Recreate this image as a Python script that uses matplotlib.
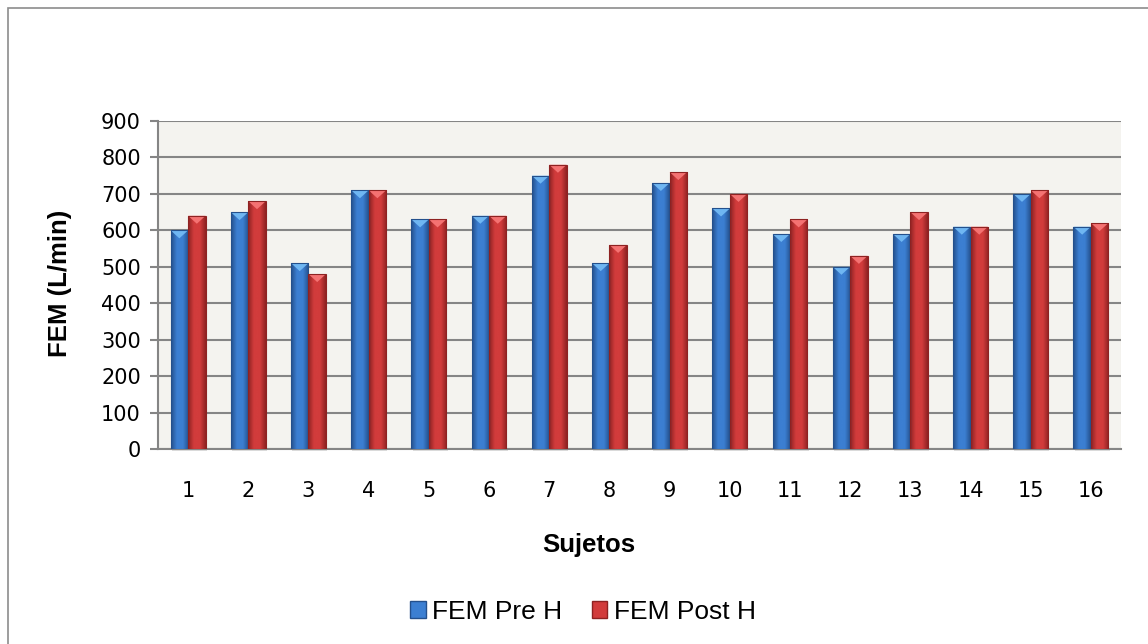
import matplotlib
matplotlib.use("Agg")
import matplotlib.pyplot as plt
import matplotlib.patches as mpatches
from matplotlib.colors import LinearSegmentedColormap
import numpy as np

# ── Data ────────────────────────────────────────────────────────────
sujetos = [str(i) for i in range(1, 17)]
fem_pre = [600, 650, 510, 710, 630, 640, 750, 510, 730, 660, 590, 500, 590, 610, 700, 610]
fem_post = [640, 680, 480, 710, 630, 640, 780, 560, 760, 700, 630, 530, 650, 610, 710, 620]
y_ticks = list(range(0, 1000, 100))

# ── Styles ──────────────────────────────────────────────────────────
_SERIES = {
    "FEM Pre H": dict(dark="#24508c", mid="#3c7fd2", light="#6fb6f2"),
    "FEM Post H": dict(dark="#8e2222", mid="#d23c3c", light="#f47272"),
}
GRID = "#858585"
PLOT_BG = "#f4f3ef"

W, H, DPI = 1148, 644, 100
fig = plt.figure(figsize=(W / DPI, H / DPI), dpi=DPI)
fig.patch.set_facecolor("white")

# outer chart frame (top and left edges visible)
fig.add_artist(mpatches.Rectangle((8 / W, -0.1), 1.2, 1 - 8 / H + 0.1,
                                  transform=fig.transFigure, fill=False,
                                  edgecolor="#8c8c8c", linewidth=1.2))

ax = fig.add_axes([158 / W, 1 - 449 / H, (1121 - 158) / W, (449 - 121) / H])
ax.set_facecolor(PLOT_BG)

x = np.arange(len(sujetos))
width = 0.29


def _bevel_bar(rects, style):
    """Shade each bar with a cylindrical gradient and a light top facet."""
    cmap = LinearSegmentedColormap.from_list(
        "bev", [style["dark"], style["mid"], style["mid"], style["dark"]])
    grad = np.linspace(0, 1, 64).reshape(1, -1)
    for r in rects:
        x0, w, h = r.get_x(), r.get_width(), r.get_height()
        im = ax.imshow(grad, extent=(x0, x0 + w, 0, h), aspect="auto",
                       cmap=cmap, zorder=3, interpolation="bicubic")
        im.set_clip_path(r)
        # top facet triangle, about 8 px deep
        depth = 22
        tri = mpatches.Polygon([(x0, h), (x0 + w, h), (x0 + w / 2, h - depth)],
                               closed=True, facecolor=style["light"],
                               edgecolor="none", zorder=4)
        ax.add_patch(tri)
        ax.add_patch(mpatches.Rectangle((x0, 0), w, h, fill=False,
                                        edgecolor=style["dark"], linewidth=0.8,
                                        zorder=5))
        # soft shadow at the base
        ax.add_patch(mpatches.Rectangle((x0 + 0.02, -6), w, 6, facecolor="#c8c8c8",
                                        edgecolor="none", alpha=0.6, zorder=1.5,
                                        clip_on=False))


for offset, (name, vals) in zip((-width / 2, width / 2),
                                (("FEM Pre H", fem_pre), ("FEM Post H", fem_post))):
    st = _SERIES[name]
    bars = ax.bar(x + offset, vals, width, color=st["mid"], zorder=2, label=name)
    _bevel_bar(bars, st)

ax.set_xlim(-0.5, len(sujetos) - 0.5)
ax.set_ylim(0, 900)
ax.set_yticks(y_ticks)
ax.set_xticks(x)
ax.set_xticklabels(sujetos)
ax.yaxis.grid(True, color=GRID, linewidth=1.5, zorder=1)
ax.set_axisbelow(True)

for side in ("top", "right"):
    ax.spines[side].set_visible(False)
ax.spines["left"].set_color(GRID)
ax.spines["left"].set_linewidth(1.5)
ax.spines["bottom"].set_color(GRID)
ax.spines["bottom"].set_linewidth(1.5)

ax.tick_params(axis="y", length=5.8, width=1.5, color=GRID, pad=6.5,
               labelsize=15, labelcolor="black")
ax.tick_params(axis="x", length=0, pad=23, labelsize=15, labelcolor="black")
for lbl in ax.get_xticklabels() + ax.get_yticklabels():
    lbl.set_family("DejaVu Sans")

fig.text(60 / W, 1 - 283 / H, "FEM (L/min)", rotation=90, ha="center",
         va="center", fontsize=18.5, fontweight="bold", family="Liberation Sans")
fig.text(589 / W, 1 - 545 / H, "Sujetos", ha="center", va="center",
         fontsize=18.5, fontweight="bold", family="Liberation Sans")

handles = [mpatches.Patch(facecolor=s["mid"], edgecolor=s["dark"], label=n)
           for n, s in _SERIES.items()]
fig.legend(handles=handles, loc="center", bbox_to_anchor=(583 / W, 1 - 612 / H),
           ncol=2, frameon=False, handlelength=0.6, handleheight=0.6,
           handletextpad=0.25, columnspacing=1.1, borderpad=0, borderaxespad=0,
           prop={"family": "Liberation Sans", "size": 19})

fig.savefig("out.png", dpi=DPI, facecolor="white")
